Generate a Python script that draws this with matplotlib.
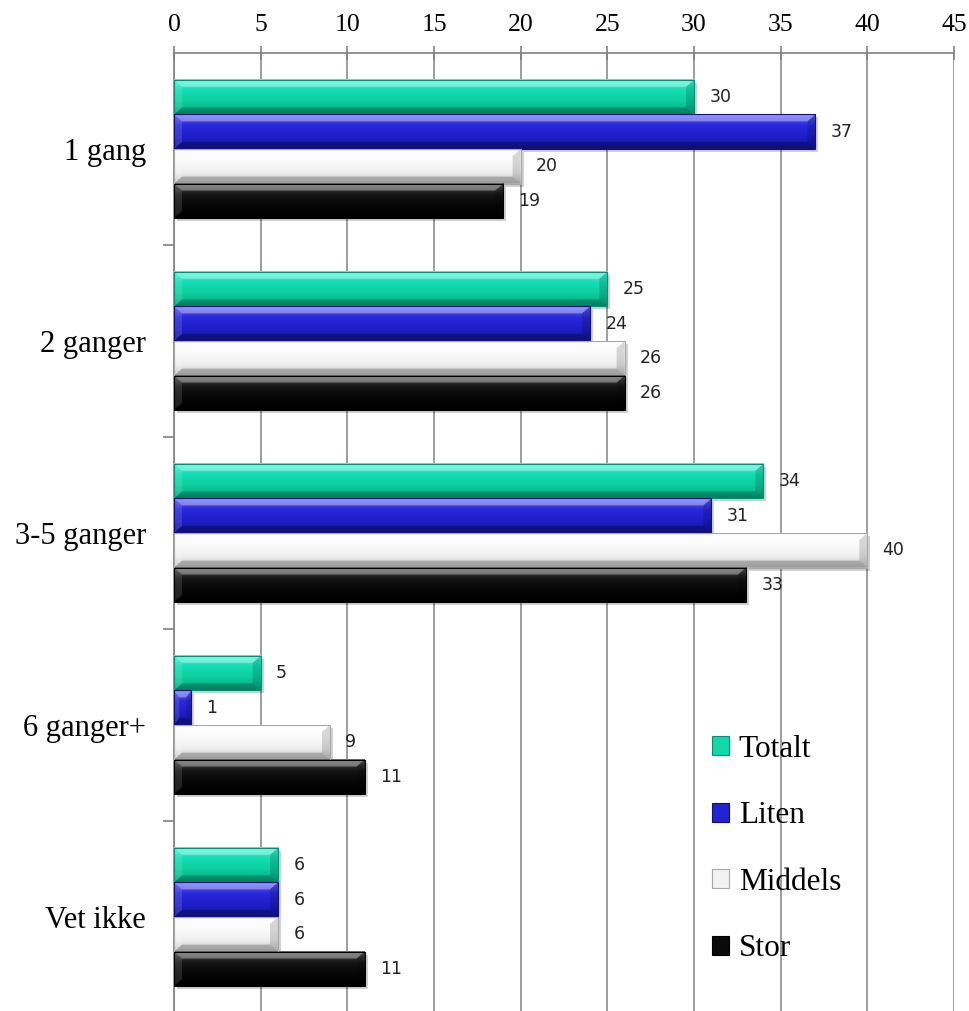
import matplotlib
matplotlib.use('Agg')
import matplotlib.pyplot as plt
from matplotlib.patches import Polygon, Rectangle, Patch
from matplotlib.colors import LinearSegmentedColormap
import numpy as np

# Kategorier og serier
kategorier = ['1 gang', '2 ganger', '3-5 ganger', '6 ganger+', 'Vet ikke']
serier = ['Totalt', 'Liten', 'Middels', 'Stor']
totalt = [30, 25, 34, 5, 6]
liten = [37, 24, 31, 1, 6]
middels = [20, 26, 40, 9, 6]
stor = [19, 26, 33, 11, 11]
x_ticks = [0, 5, 10, 15, 20, 25, 30, 35, 40, 45]

verdier = [totalt, liten, middels, stor]

# Fargeforløp ovenfra og ned for hver serie
forlop = {
    'Totalt': ['#3EF4DC', '#14DDB2', '#0CCB9C', '#07A57E'],
    'Liten': ['#5C5CF6', '#2828DA', '#1E1EC6', '#131392'],
    'Middels': ['#FFFFFF', '#FBFBFB', '#EEEEEE', '#C6C6C6'],
    'Stor': ['#505050', '#141414', '#060606', '#000000'],
}
kant = {'Totalt': '#079070', 'Liten': '#101080', 'Middels': '#A8A8A8', 'Stor': '#000000'}
hovedfarge = {'Totalt': '#12D8AA', 'Liten': '#2222D0', 'Middels': '#F2F2F2', 'Stor': '#0A0A0A'}

plt.rcParams['font.family'] = ['Liberation Serif', 'DejaVu Serif']

fig = plt.figure(figsize=(9.7, 10.11), dpi=100)
ax = fig.add_axes([174 / 970, -0.002, (954 - 174) / 970, 1 - 53 / 1011 + 0.002])

bredde = 0.18
forskyvning = [-0.27, -0.09, 0.09, 0.27]
y = np.arange(len(kategorier))

px_x = 45 / 780.0   # dataenheter per piksel i x
px_y = 5 / 960.0    # dataenheter per piksel i y


def tegn_stolpe(rect, navn):
    x0 = rect.get_x()
    w = rect.get_width()
    y0 = rect.get_y()
    h = rect.get_height()
    x1 = x0 + w
    y1 = y0 + h
    # skygge
    ax.add_patch(Rectangle((x0 + 3 * px_x, y0 + 3 * px_y), w, h, facecolor='#000000',
                           alpha=0.18, lw=0, zorder=2))
    # gradient
    cmap = LinearSegmentedColormap.from_list(navn, forlop[navn])
    grad = np.linspace(0, 1, 64).reshape(-1, 1)
    ax.imshow(grad, cmap=cmap, extent=(x0, x1, y1, y0), aspect='auto',
              interpolation='bicubic', zorder=3)
    # fasett
    bx = min(8 * px_x, w * 0.3)
    by = 7 * px_y
    topp = Polygon([(x0, y0), (x1, y0), (x1 - bx, y0 + by), (x0 + bx, y0 + by)],
                   facecolor='white', alpha=0.35, lw=0, zorder=4)
    bunn = Polygon([(x0, y1), (x1, y1), (x1 - bx, y1 - by), (x0 + bx, y1 - by)],
                   facecolor='black', alpha=0.22, lw=0, zorder=4)
    hoyre = Polygon([(x1, y0), (x1, y1), (x1 - bx, y1 - by), (x1 - bx, y0 + by)],
                    facecolor='black', alpha=0.15, lw=0, zorder=4)
    venstre = Polygon([(x0, y0), (x0, y1), (x0 + bx, y1 - by), (x0 + bx, y0 + by)],
                      facecolor='white', alpha=0.12, lw=0, zorder=4)
    for p in (topp, bunn, hoyre, venstre):
        ax.add_patch(p)
    ax.add_patch(Rectangle((x0, y0), w, h, facecolor='none', edgecolor=kant[navn],
                           lw=0.8, zorder=5))


for navn, vals, dy in zip(serier, verdier, forskyvning):
    bars = ax.barh(y + dy, vals, height=bredde, color=hovedfarge[navn], zorder=2.5)
    for rect, v in zip(bars, vals):
        tegn_stolpe(rect, navn)
        ax.annotate(str(v), xy=(v, rect.get_y() + rect.get_height() / 2),
                    xytext=(11, 0), textcoords='offset points', va='center', ha='left',
                    fontsize=12.5, family='DejaVu Sans', color='#222222', zorder=6)

ax.set_xlim(0, 45)
ax.set_ylim(4.5, -0.5)

ax.xaxis.tick_top()
ax.set_xticks(x_ticks)
ax.tick_params(axis='x', direction='inout', length=10, width=1.2, color='#808080',
               labelsize=18.5, pad=7)
ax.grid(axis='x', color='#8C8C8C', linewidth=1.2, zorder=0)
ax.set_axisbelow(True)

ax.set_yticks(y)
ax.set_yticklabels(kategorier, fontsize=22)
ax.tick_params(axis='y', which='major', length=0, pad=20)
ax.set_yticks(np.arange(0.5, 4.0, 1.0), minor=True)
ax.tick_params(axis='y', which='minor', length=8, width=1.2, color='#808080',
               direction='out')

for side in ('right', 'bottom'):
    ax.spines[side].set_visible(False)
for side in ('top', 'left'):
    ax.spines[side].set_color('#808080')
    ax.spines[side].set_linewidth(1.2)

handles = [Patch(facecolor=hovedfarge[n], edgecolor=kant[n], lw=0.8) for n in serier]
fig.legend(handles, serier, loc='center left', bbox_to_anchor=(712 / 970, 1 - 849 / 1011),
           frameon=False, fontsize=22.5, handlelength=0.56, handleheight=0.56,
           handletextpad=0.3, labelspacing=1.2, borderpad=0, borderaxespad=0)

fig.savefig('out.png', dpi=100)
